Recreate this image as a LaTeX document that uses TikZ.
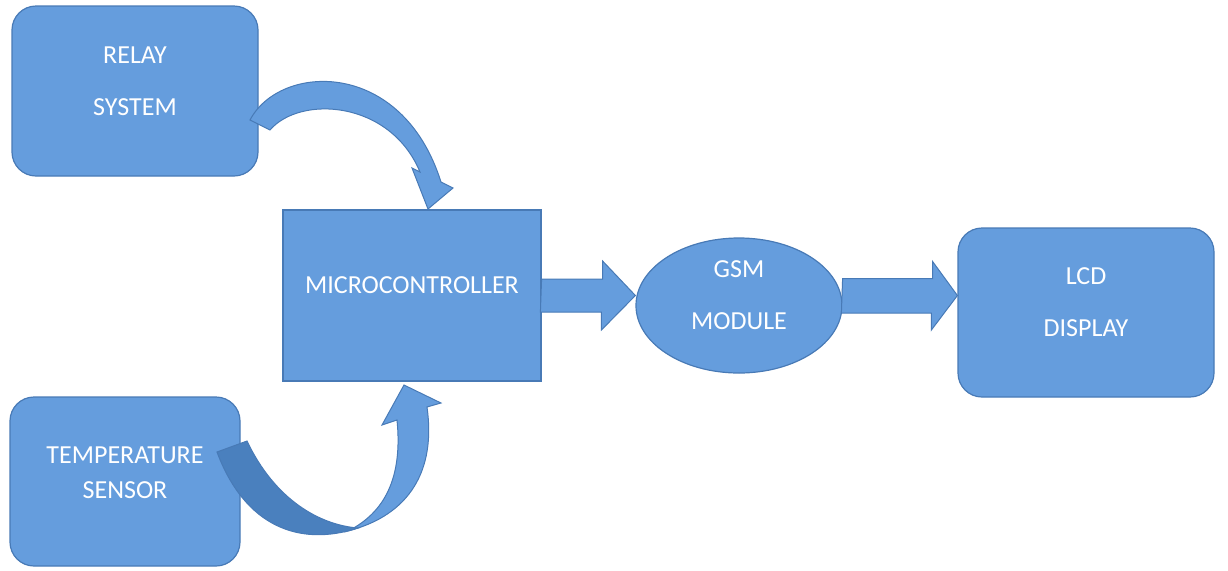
\documentclass[tikz,border=0pt]{standalone}
\usepackage{fontspec}
\setmainfont{Carlito}
\usetikzlibrary{shapes.geometric}
\definecolor{boxblue}{RGB}{101,157,221}
\definecolor{edgeblue}{RGB}{72,122,182}
\definecolor{twistblue}{RGB}{74,128,190}

\begin{document}
\begin{tikzpicture}[x=0.5pt,y=-0.5pt,
  box/.style={draw=edgeblue,fill=boxblue,line width=0.6pt,text=white,align=center,
    font=\fontsize{13}{26}\selectfont,text depth=10pt},
  blk/.style={draw=edgeblue,fill=boxblue,line width=0.5pt,line join=miter}]
\useasboundingbox (0,0) rectangle (1228,570);
\node[box,rounded corners=12pt,minimum width=123pt,minimum height=85pt] (relay) at (135,91) {RELAY\\SYSTEM};
\node[box,minimum width=129pt,minimum height=85.5pt] (mc) at (412,295.5) {MICROCONTROLLER};
\node[box,rounded corners=12pt,minimum width=115pt,minimum height=84.5pt,
    font=\fontsize{13}{17.5}\selectfont,text depth=9pt] (temp) at (125,481.5) {TEMPERATURE\\SENSOR};
\node[box,ellipse,inner sep=0pt,minimum width=103pt,minimum height=67.5pt] (gsm) at (739,305.5) {GSM\\MODULE};
\node[box,rounded corners=12pt,minimum width=128pt,minimum height=84.5pt] (lcd) at (1086,312.5) {LCD\\DISPLAY};
% straight block arrows
\draw[blk] (mc.east) ++(0,-16.5) -- ++(61,0) -- ++(0,-18) -- (gsm.west |- mc.east)
    -- ++(-34,34.5) -- ++(0,-18) -- ++(-61,0) -- cycle;
\draw[blk] (gsm.east |- mc.east) ++(0,-17) -- ++(90,0) -- ++(0,-17) -- (lcd.west |- mc.east)
    -- ++(-26,34.5) -- ++(0,-17) -- ++(-90,0) -- cycle;
% relay -> microcontroller
\draw[blk] (250,120) .. controls (280,63) and (402,58) .. (441,182) -- (453,188)
    -- (428,209) -- (412,168) -- (420,172) .. controls (390,100) and (300,95) .. (270,130) -- cycle;
% temperature sensor -> microcontroller
\draw[blk] (348,531) .. controls (410,515) and (436,470) .. (427,407) -- (441,403)
    -- (404,385) -- (382,425) -- (397,420) .. controls (402,470) and (390,510) .. (348,531) -- cycle;
\draw[blk,fill=twistblue] (217,452) .. controls (245,527) and (300,547) .. (358,528)
    .. controls (320,525) and (275,500) .. (247,441) -- cycle;
\end{tikzpicture}
\end{document}
